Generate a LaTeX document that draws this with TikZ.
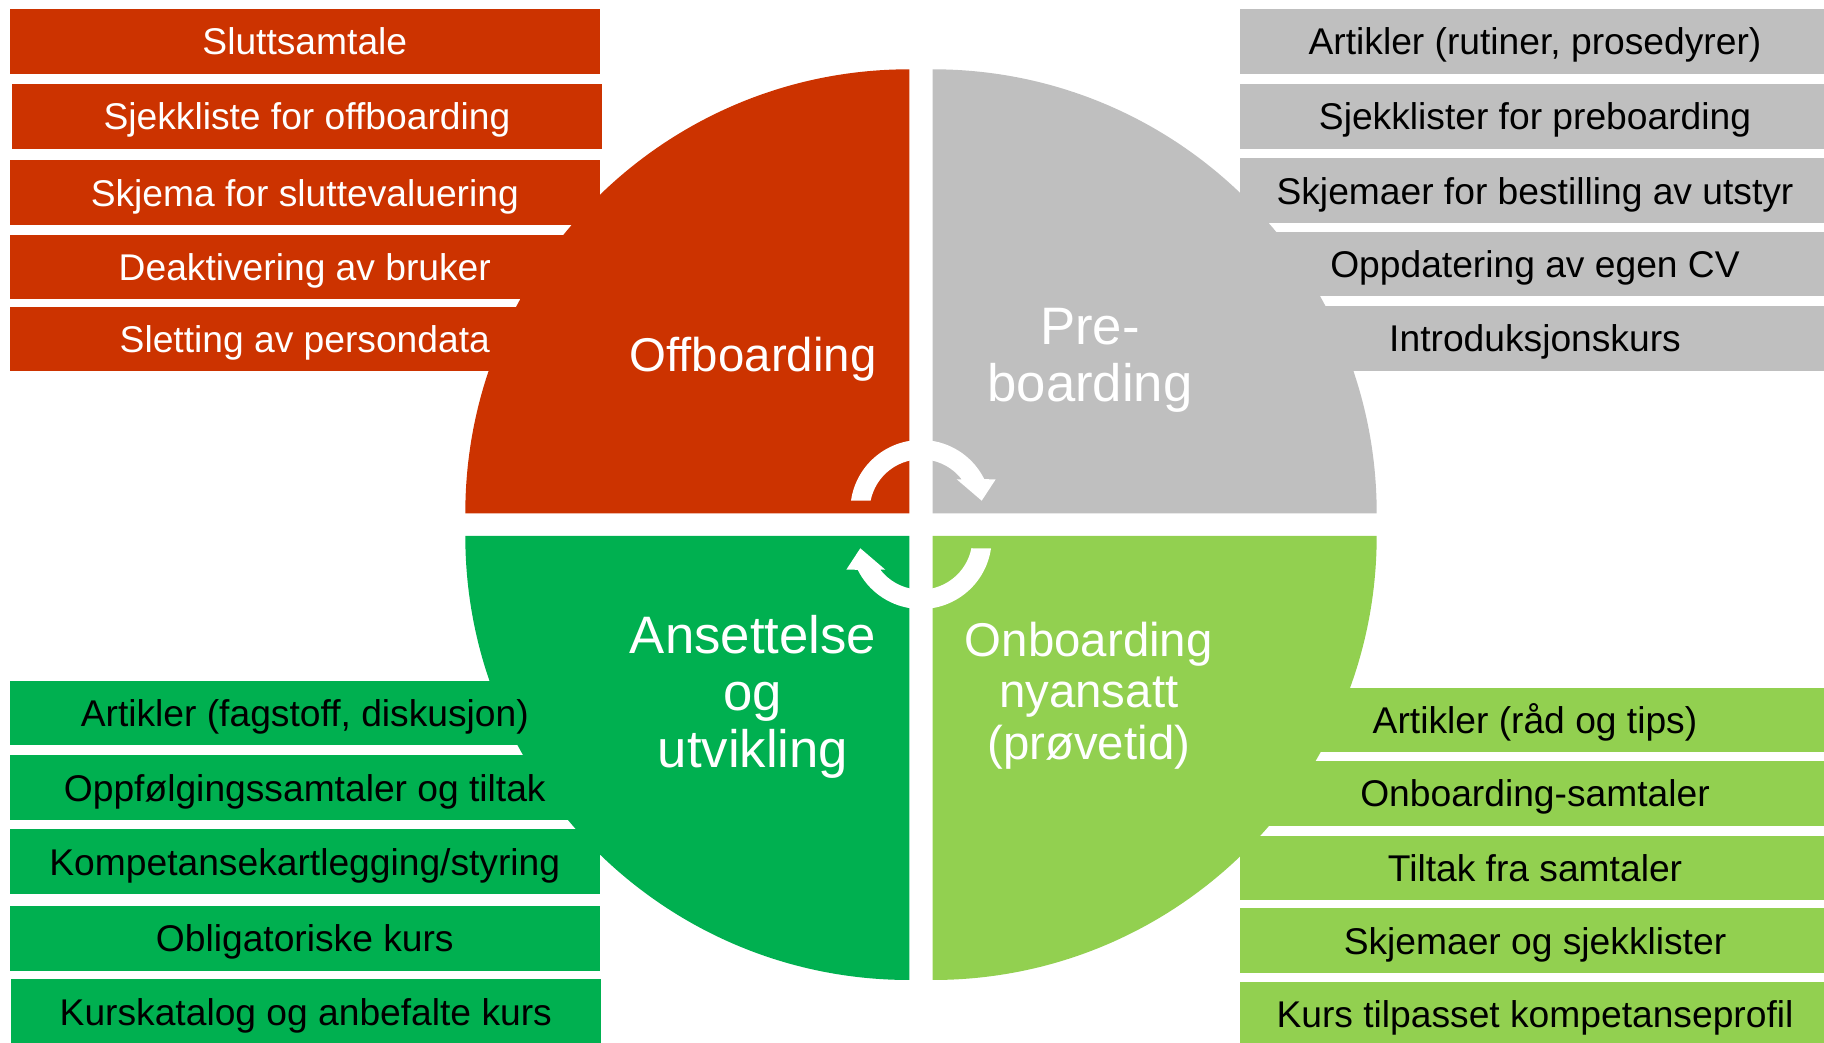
\documentclass[tikz,border=0pt]{standalone}
\usepackage{fontspec}
\setmainfont{Liberation Sans}
\definecolor{offred}{HTML}{CC3300}
\definecolor{pregray}{HTML}{BFBFBF}
\definecolor{ansgreen}{HTML}{00B050}
\definecolor{onbgreen}{HTML}{92D050}

\begin{document}
\begin{tikzpicture}[x=1pt, y=1pt,
    item/.style={minimum width=590.5pt, minimum height=64.5pt, inner sep=0pt,
      text height=34pt, text depth=6.6pt, font=\fontsize{37.2}{40}\selectfont},
    offitem/.style={item, fill=offred, text=white},
    preitem/.style={item, fill=pregray, text=black},
    ansitem/.style={item, fill=ansgreen, text=black},
    onbitem/.style={item, fill=onbgreen, text=black},
    phase/.style={text=white, align=center, inner sep=0pt},
    bigphase/.style={phase, font=\fontsize{52.7}{57}\selectfont},
    smallphase/.style={phase, font=\fontsize{47.4}{51.3}\selectfont}]

            \useasboundingbox (0,0) rectangle (1824,1042);

            % Draw the four quarters of the cycle
            \fill[offred]   (909.3,528.7) -- ++(-444,0) arc[start angle=180, end angle=90,  radius=444] -- cycle;
            \fill[pregray]  (932.7,528.7) -- ++(0,444)  arc[start angle=90,  end angle=0,   radius=444] -- cycle;
            \fill[ansgreen] (909.3,506)   -- ++(0,-444) arc[start angle=270, end angle=180, radius=444] -- cycle;
            \fill[onbgreen] (932.7,506)   -- ++(444,0)  arc[start angle=0,   end angle=-90, radius=444] -- cycle;

            % Draw the two white turning arrows in the middle
            \foreach \turn in {0,180}
                \fill[white, shift={(921,517.5)}, rotate=\turn]
                    (-70.0,23.8) arc[start angle=171.9, end angle=26.4, radius=70.7]
                    -- (74.7,45.2) -- (60.7,23.8) -- (35.7,45.2) -- (40.7,45.2)
                    arc[start angle=37.7, end angle=168.8, radius=51.4] -- cycle;

            % Names of the four phases
            \node[smallphase, anchor=base] (offlabel) at (753,670.3) {Offboarding};
            \node[bigphase] (prelabel) at (1090,682) {Pre-\\boarding};
            \node[bigphase] (anslabel) at (753,345.3) {Ansettelse\\og\\utvikling};
            \node[smallphase] (onblabel) at (1088.8,346.3) {Onboarding\\nyansatt\\(prøvetid)};

            % Offboarding items (left, top)
            \node[offitem] (off1) at (304.8,1000.7) {Sluttsamtale};
            \node[offitem] (off2) at (306.9,925.7) {Sjekkliste for offboarding};
            \node[offitem] (off3) at (304.8,849.5) {Skjema for sluttevaluering};
            \node[offitem] (off4) at (304.8,774.9) {Deaktivering av bruker};
            \node[offitem] (off5) at (304.8,702.8) {Sletting av persondata};

            % Preboarding items (right, top)
            \node[preitem] (pre1) at (1535,1000.7) {Artikler (rutiner, prosedyrer)};
            \node[preitem] (pre2) at (1535,925.7) {Sjekklister for preboarding};
            \node[preitem] (pre3) at (1535,851.5) {Skjemaer for bestilling av utstyr};
            \node[preitem] (pre4) at (1535,777.8) {Oppdatering av egen CV};
            \node[preitem] (pre5) at (1535,703.7) {Introduksjonskurs};

            % Ansettelse items (left, bottom)
            \node[ansitem] (ans1) at (304.8,329.2) {Artikler (fagstoff, diskusjon)};
            \node[ansitem] (ans2) at (304.8,254.5) {Oppfølgingssamtaler og tiltak};
            \node[ansitem] (ans3) at (304.8,180.4) {Kompetansekartlegging/styring};
            \node[ansitem] (ans4) at (304.8,103.7) {Obligatoriske kurs};
            \node[ansitem] (ans5) at (305.8,30.4) {Kurskatalog og anbefalte kurs};

            % Onboarding items (right, bottom)
            \node[onbitem] (onb1) at (1535,322) {Artikler (råd og tips)};
            \node[onbitem] (onb2) at (1535,248.7) {Onboarding-samtaler};
            \node[onbitem] (onb3) at (1535,174.2) {Tiltak fra samtaler};
            \node[onbitem] (onb4) at (1535,101.5) {Skjemaer og sjekklister};
            \node[onbitem] (onb5) at (1535,28) {Kurs tilpasset kompetanseprofil};

        \end{tikzpicture}
\end{document}
